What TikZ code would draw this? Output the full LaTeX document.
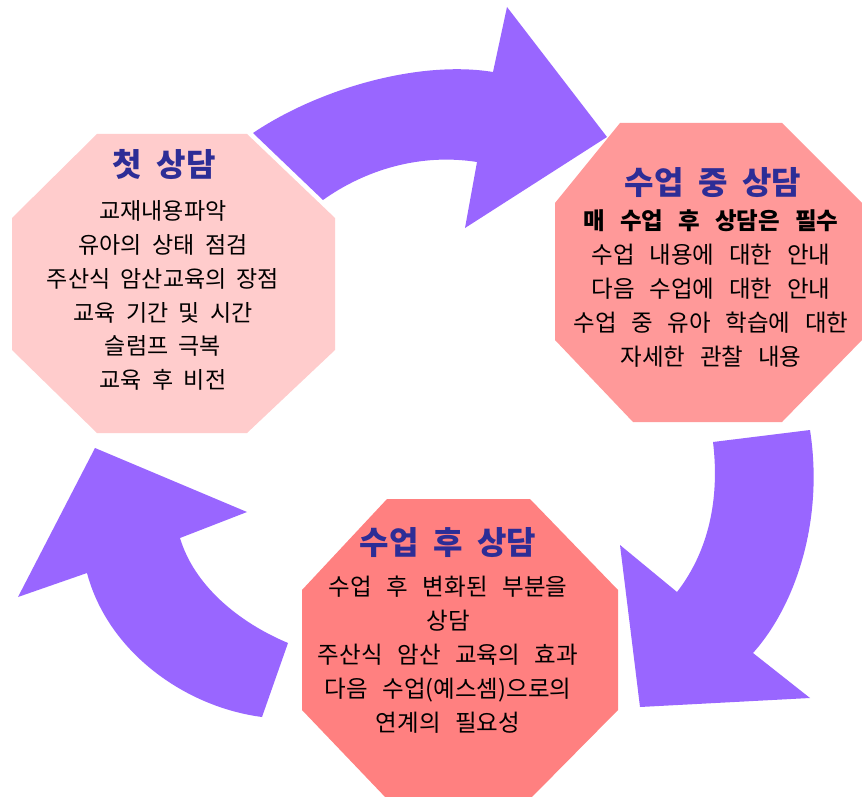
\documentclass[tikz,border=0pt]{standalone}
\usepackage{fontspec}
\setmainfont[WordSpace=2.8]{Noto Sans CJK KR}
\newfontfamily\krA[WordSpace=2.2]{Noto Sans CJK KR}
\newfontfamily\krT[WordSpace=2]{Noto Sans CJK KR}
\definecolor{octA}{RGB}{255,204,204}
\definecolor{octB}{RGB}{255,153,153}
\definecolor{octC}{RGB}{255,128,128}
\definecolor{arrowc}{RGB}{153,102,255}
\definecolor{titlec}{RGB}{45,45,150}
\tikzset{
  arrowshape/.style={fill=arrowc,draw=none},
  titletext/.style={inner sep=0pt,text=titlec,font=\krT\fontsize{32}{36}\selectfont\bfseries},
  bodytext/.style={inner sep=0pt,align=center,text=black},
}
\begin{document}
\begin{tikzpicture}[x=1pt,y=-1pt]
\useasboundingbox (0,0) rectangle (862,797);
\fill[white] (0,0) rectangle (862,797);
% octagons
\fill[octA] (12,218) -- (97,134) -- (247,134) -- (335,218) -- (335,350) -- (247,433) -- (97,433) -- (12,350) -- cycle;
\fill[octB] (555,203) -- (620,123) -- (782,123) -- (862,203) -- (862,340) -- (782,422) -- (633,422) -- (555,340) -- cycle;
\fill[octC] (302,590) -- (387,499) -- (530,499) -- (618,590) -- (618,710) -- (530,799) -- (387,799) -- (302,710) -- cycle;
% arrows
\fill[arrowshape] (253,133) .. controls (320,88) and (420,60) .. (493,72) -- (507,7) -- (607,137) -- (465,228) -- (477,162) .. controls (420,153) and (365,170) .. (323,200) -- cycle;
\fill[arrowshape] (810,430) .. controls (824,520) and (796,605) .. (753,653) -- (810,698) -- (640,707) -- (620,545) -- (677,592) .. controls (708,552) and (720,500) .. (713,442) -- cycle;
\fill[arrowshape] (288,643) .. controls (238,622) and (194,585) .. (180,538) -- (247,512) -- (95,448) -- (18,597) -- (87,573) .. controls (108,652) and (185,707) .. (262,717) -- cycle;
% texts
\node[titletext] (t1) at (164,164) {첫 상담};
\node[bodytext,font=\krA\fontsize{23}{33.8}\selectfont] (b1) at (163,295.5) {교재내용파악\\유아의 상태 점검\\주산식 암산교육의 장점\\교육 기간 및 시간\\슬럼프 극복\\교육 후 비전};
\node[titletext] (t2) at (713,183) {수업 중 상담};
\node[bodytext,font=\fontsize{23.5}{34.2}\selectfont] (b2) at (711,288.5) {{\bfseries 매 수업 후 상담은 필수}\\수업 내용에 대한 안내\\다음 수업에 대한 안내\\수업 중 유아 학습에 대한\\자세한 관찰 내용};
\node[titletext] (t3) at (448,543) {수업 후 상담};
\node[bodytext,font=\fontsize{23.5}{34}\selectfont] (b3) at (448,655) {수업 후 변화된 부분을\\상담\\주산식 암산 교육의 효과\\다음 수업(예스셈)으로의\\연계의 필요성};
\end{tikzpicture}
\end{document}
